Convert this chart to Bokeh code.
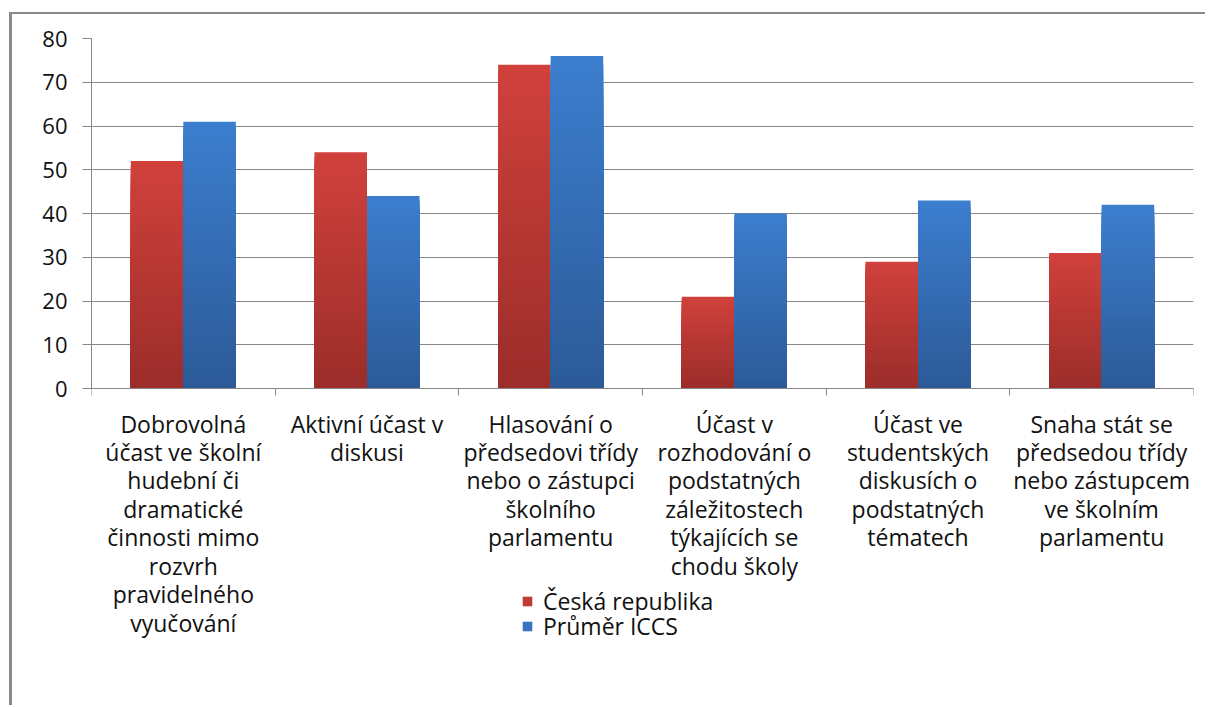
import numpy as np
from bokeh.plotting import figure
from bokeh.models import Range1d, FixedTicker, Legend, LegendItem, ColumnDataSource
from bokeh.embed import file_html
from bokeh.resources import INLINE

categories = [
    "Dobrovolná\núčast ve školní\nhudební či\ndramatické\nčinnosti mimo\nrozvrh\npravidelného\nvyučování",
    "Aktivní účast v\ndiskusi",
    "Hlasování o\npředsedovi třídy\nnebo o zástupci\nškolního\nparlamentu",
    "Účast v\nrozhodování o\npodstatných\nzáležitostech\ntýkajících se\nchodu školy",
    "Účast ve\nstudentských\ndiskusích o\npodstatných\ntématech",
    "Snaha stát se\npředsedou třídy\nnebo zástupcem\nve školním\nparlamentu",
]
cz_values = [52, 54, 74, 21, 29, 31]
iccs_values = [61, 44, 76, 40, 43, 42]
series_names = ["Česká republika", "Průměr ICCS"]
y_ticks = [0, 10, 20, 30, 40, 50, 60, 70, 80]

FONT = "Open Sans"
GRAY = "#878787"

W, H = 1196, 693
TOP, BOTTOM_PAD = 24, 0
AXIS_PX = 350          # pixel height of the 0..80 value band
YMAX = 80
frame_h = H - TOP - BOTTOM_PAD
ymin = YMAX - YMAX * frame_h / AXIS_PX   # extend range below 0 to host labels and legend

p = figure(width=W, height=H, x_range=Range1d(0, len(categories)), y_range=Range1d(ymin, YMAX),
           output_backend="svg", toolbar_location=None,
           min_border_left=79, min_border_right=15, min_border_top=TOP, min_border_bottom=BOTTOM_PAD)
p.styles = {"margin-left": "9px", "margin-top": "12px",
            "border-left": "3px solid #8a8a8a", "border-top": "2px solid #8a8a8a"}
p.outline_line_color = None
p.background_fill_color = "white"
p.border_fill_color = "white"

BW = 0.286
N = 50

def hex2rgb(h):
    h = h.lstrip("#")
    return np.array([int(h[i:i + 2], 16) for i in (0, 2, 4)], dtype=float)

def rgb2hex(c):
    return "#%02x%02x%02x" % tuple(int(round(v)) for v in c)

def gradient_bars(offset, vals, c_bottom, c_top):
    # overlapping layers, tallest (lightest) first, so no seams appear
    cb, ct = hex2rgb(c_bottom), hex2rgb(c_top)
    xs, tops, cols = [], [], []
    for j in range(N, 0, -1):
        t = (j - 0.5) / N
        col = rgb2hex(cb + (ct - cb) * t)
        for i, v in enumerate(vals):
            xs.append(i + 0.5 + offset)
            tops.append(v * j / N)
            cols.append(col)
    src = ColumnDataSource(dict(x=xs, top=tops, color=cols))
    return p.vbar(x="x", bottom=0, top="top", width=BW, fill_color="color",
                  line_color=None, source=src)

r_cz = gradient_bars(-BW / 2, cz_values, "#9b2d2a", "#d1413c")
r_iccs = gradient_bars(BW / 2, iccs_values, "#2c5a97", "#3c7ecf")

# axes
p.yaxis.ticker = FixedTicker(ticks=y_ticks)
p.yaxis.bounds = (0, YMAX)
p.ygrid.ticker = FixedTicker(ticks=y_ticks)
p.ygrid.grid_line_color = GRAY
p.xgrid.visible = False
p.yaxis.axis_line_color = GRAY
p.yaxis.major_tick_line_color = GRAY
p.yaxis.major_tick_out = 9
p.yaxis.major_tick_in = 0
p.yaxis.minor_tick_line_color = None
p.yaxis.major_label_text_font = FONT
p.yaxis.major_label_text_font_size = "22px"
p.yaxis.major_label_text_color = "#111111"
p.yaxis.major_label_standoff = 15

centers = [i + 0.5 for i in range(len(categories))]
bounds = [float(i) for i in range(len(categories) + 1)]
p.xaxis.fixed_location = 0
p.xaxis.ticker = FixedTicker(ticks=centers, minor_ticks=bounds)
p.xaxis.major_label_overrides = {c: lab for c, lab in zip(centers, categories)}
p.xaxis.axis_line_color = GRAY
p.xaxis.major_tick_line_color = None
p.xaxis.major_tick_out = 0
p.xaxis.major_tick_in = 0
p.xaxis.minor_tick_line_color = GRAY
p.xaxis.minor_tick_out = 7
p.xaxis.minor_tick_in = 0
p.xaxis.major_label_text_font = FONT
p.xaxis.major_label_text_font_size = "23px"
p.xaxis.major_label_text_color = "#111111"
p.xaxis.major_label_text_line_height = 0.89
p.xaxis.major_label_text_align = "center"
p.xaxis.major_label_standoff = 12

# legend (one per entry, inside the extended frame)
leg_idx = int(N * 0.3) * len(categories)
for rend, name, vy in [(r_cz, series_names[0], 90), (r_iccs, series_names[1], 65)]:
    lg = Legend(items=[LegendItem(label=name, renderers=[rend], index=leg_idx)],
                location=(430, vy),
                glyph_width=12, glyph_height=12, label_standoff=10, padding=0, margin=0,
                label_height=12, label_text_line_height=0.8,
                border_line_color=None, background_fill_alpha=0,
                label_text_font=FONT, label_text_font_size="23px", label_text_color="#111111")
    p.add_layout(lg, "center")

open("out.html", "w").write(file_html(p, INLINE))
